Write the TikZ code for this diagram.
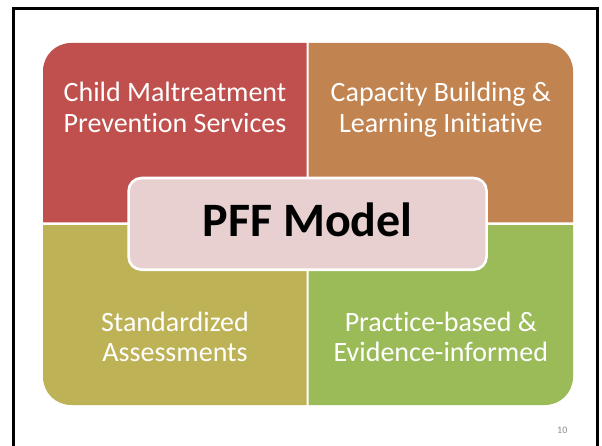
\documentclass[tikz,border=0pt]{standalone}
\usepackage{fontspec}
\setmainfont{Carlito}[Ligatures={NoCommon,NoContextual}]
\definecolor{qred}{HTML}{C0504D}
\definecolor{qorange}{HTML}{C1834F}
\definecolor{qolive}{HTML}{BEB256}
\definecolor{qgreen}{HTML}{9BBB59}
\definecolor{hubfill}{HTML}{E8D0D0}
\definecolor{pagegray}{HTML}{8C8C8C}
\tikzset{
  quadtext/.style={text=white, align=center, inner sep=0pt, anchor=base,
    font=\fontsize{28}{30.6}\selectfont},
  hubbox/.style={draw=white, line width=2.6pt, fill=hubfill, rounded corners=13pt,
    minimum width=358pt, minimum height=91.7pt, inner sep=0pt},
  hubtext/.style={text=black, inner sep=0pt, anchor=base,
    font=\fontsize{48}{56}\selectfont\bfseries},
}
\begin{document}
\begin{tikzpicture}[x=1pt,y=1pt]
\useasboundingbox (0,0) rectangle (602,445);
\clip (0,0) rectangle (602,445);
% slide frame
\draw[line width=2.7pt] (13.5,-20) -- (13.5,436.5) -- (597.8,436.5) -- (597.8,-20);

% matrix quadrants, each with its outer corner rounded
\def\qr{28}
\fill[qred] (306.7,222.7) -- (43,222.7) -- (43,402-\qr)
  arc[start angle=180, end angle=90, radius=\qr] -- (306.7,402) -- cycle;
\fill[qorange] (308.7,222.7) -- (308.7,402) -- (573-\qr,402)
  arc[start angle=90, end angle=0, radius=\qr] -- (573,222.7) -- cycle;
\fill[qolive] (306.7,220) -- (43,220) -- (43,40+\qr)
  arc[start angle=180, end angle=270, radius=\qr] -- (306.7,40) -- cycle;
\fill[qgreen] (308.7,220) -- (573,220) -- (573,40+\qr)
  arc[start angle=0, end angle=-90, radius=\qr] -- (308.7,40) -- cycle;

% quadrant labels (anchored on the baseline of the second line)
\node[quadtext] (services) at (175,312.7) {Child Maltreatment\\Prevention Services};
\node[quadtext] (capacity) at (440.85,312.7) {Capacity Building \&\\Learning Initiative};
\node[quadtext] (assess) at (175,83.3) {Standardized\\Assessments};
\node[quadtext] (practice) at (440.85,83.3) {Practice-based \&\\Evidence-informed};

% central hub
\node[hubbox] (hub) at (307.6,221.15) {};
\node[hubtext] (hublabel) at (307.6,208.3) {PFF Model};

% page number
\node[text=pagegray, inner sep=0pt, anchor=base, font=\fontsize{10}{12}\selectfont]
  (pagenum) at (562.3,11.7) {10};
\end{tikzpicture}
\end{document}
